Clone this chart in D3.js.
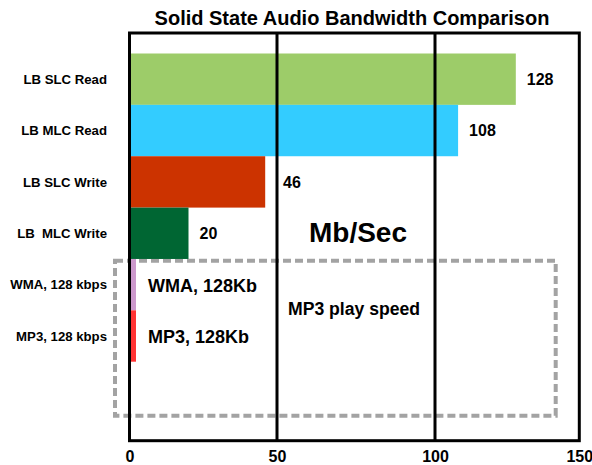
<!DOCTYPE html>
<html>
<head>
<meta charset="utf-8">
<script src="https://cdn.jsdelivr.net/npm/d3@7"></script>
<style>
  html, body { margin: 0; padding: 0; background: #fff; }
  svg { display: block; font-family: "Liberation Sans", Arial, Helvetica, sans-serif; font-weight: bold; }
</style>
</head>
<body>
<svg id="chart" width="592" height="465"></svg>
<script>
// Bandwidth figures, Mb/Sec
const categories = ["LB SLC Read", "LB MLC Read", "LB SLC Write", "LB  MLC Write", "WMA, 128 kbps", "MP3, 128 kbps"];
const values = [128, 108, 46, 20, 2.2, 2.2];
const colors = ["#9dcc69", "#33ccff", "#cc3300", "#006633", "#cc99cc", "#ff3333"];
const valueLabels = ["128", "108", "46", "20", null, null];
const inBarNotes = [null, null, null, null, "WMA, 128Kb", "MP3, 128Kb"];
const xTicks = [0, 50, 100, 150];
const title = "Solid State Audio Bandwidth Comparison";
const unitLabel = "Mb/Sec";
const playNote = "MP3 play speed";

const svg = d3.select("#chart");

const frame = { left: 129.5, right: 579.3, top: 33, bottom: 440.7 };

// horizontal value scale (piecewise through the gridline positions)
const x = d3.scaleLinear()
  .domain(xTicks)
  .range([frame.left, 277, 435, frame.right]);

// category bands, bars touch each other
const y = d3.scaleBand()
  .domain(categories)
  .range([53.5, 361.7])
  .padding(0);

const rows = categories.map((c, i) => ({
  cat: c, value: values[i], color: colors[i], label: valueLabels[i], note: inBarNotes[i]
}));

// title
svg.append("text")
  .attr("x", 352).attr("y", 25)
  .attr("text-anchor", "middle")
  .attr("font-size", 20)
  .text(title);

// dashed box around the audio playback rows
svg.append("rect")
  .attr("x", 115).attr("y", 260.7)
  .attr("width", 555.7 - 115).attr("height", 415.7 - 260.7)
  .attr("fill", "none")
  .attr("stroke", "#a3a3a3")
  .attr("stroke-width", 4)
  .attr("stroke-dasharray", "8,4");

// bars
svg.append("g").selectAll("rect")
  .data(rows)
  .join("rect")
  .attr("x", x(0))
  .attr("y", d => y(d.cat))
  .attr("width", d => x(d.value) - x(0))
  .attr("height", y.bandwidth())
  .attr("fill", d => d.color);

// gridlines
svg.append("g").selectAll("line")
  .data(xTicks.filter(t => t > xTicks[0] && t < xTicks[xTicks.length - 1]))
  .join("line")
  .attr("x1", d => x(d)).attr("x2", d => x(d))
  .attr("y1", frame.top).attr("y2", frame.bottom)
  .attr("stroke", "#000").attr("stroke-width", 3);

// plot frame
svg.append("rect")
  .attr("x", frame.left).attr("y", frame.top)
  .attr("width", frame.right - frame.left).attr("height", frame.bottom - frame.top)
  .attr("fill", "none")
  .attr("stroke", "#000").attr("stroke-width", 3);

// category axis labels
svg.append("g").selectAll("text")
  .data(rows)
  .join("text")
  .attr("x", 107)
  .attr("y", d => y(d.cat) + y.bandwidth() / 2)
  .attr("dy", "0.35em")
  .attr("text-anchor", "end")
  .attr("font-size", 13.2)
  .style("white-space", "pre")
  .attr("xml:space", "preserve")
  .text(d => d.cat);

// value labels; nudged past a gridline when they would sit on it
const gridXs = xTicks.map(t => x(t));
svg.append("g").selectAll("text")
  .data(rows.filter(d => d.label))
  .join("text")
  .attr("x", d => {
    let px = x(d.value) + 11;
    gridXs.forEach(g => { if (g > x(d.value) && g < px + 4) px = g + 6; });
    return px;
  })
  .attr("y", d => y(d.cat) + y.bandwidth() / 2)
  .attr("dy", "0.35em")
  .attr("font-size", 16)
  .text(d => d.label);

// notes beside the tiny playback bars
svg.append("g").selectAll("text")
  .data(rows.filter(d => d.note))
  .join("text")
  .attr("x", 148)
  .attr("y", d => y(d.cat) + y.bandwidth() / 2 + 7)
  .attr("font-size", 18)
  .text(d => d.note);

// unit label and playback note
svg.append("text")
  .attr("x", 358).attr("y", 241.5)
  .attr("text-anchor", "middle")
  .attr("font-size", 28)
  .text(unitLabel);

svg.append("text")
  .attr("x", 354).attr("y", 315)
  .attr("text-anchor", "middle")
  .attr("font-size", 17.6)
  .text(playNote);

// x axis tick labels
const xAxis = d3.axisBottom(x).tickValues(xTicks).tickSize(0).tickPadding(0).tickFormat(d3.format("d"));
const ax = svg.append("g")
  .attr("transform", `translate(0,${frame.bottom})`)
  .call(xAxis);
ax.select(".domain").remove();
ax.selectAll("text")
  .attr("font-family", null)
  .attr("font-size", 16)
  .attr("fill", "#000")
  .attr("dy", null)
  .attr("y", 21);
</script>
</body>
</html>
